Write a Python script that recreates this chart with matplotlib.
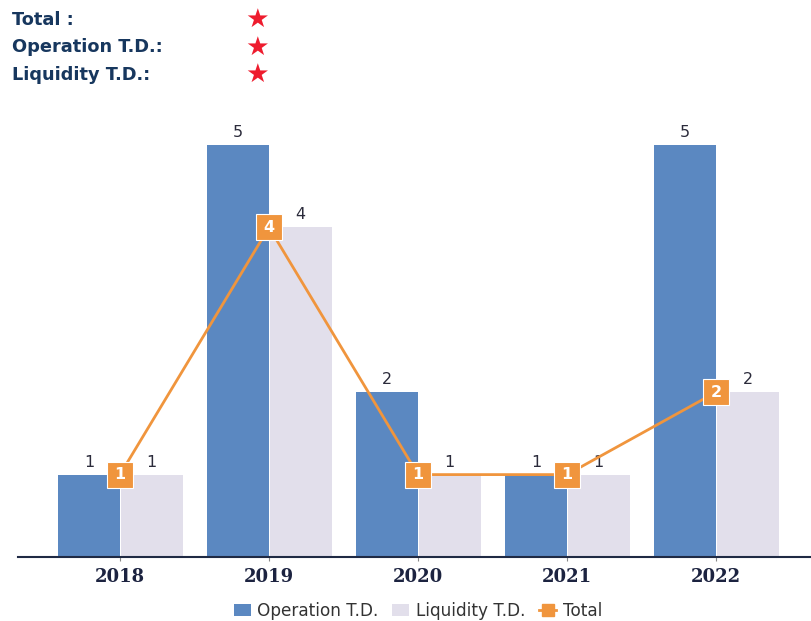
import matplotlib

matplotlib.use("Agg")
import matplotlib.pyplot as plt
import numpy as np
from matplotlib.lines import Line2D
from matplotlib.patches import Patch

years = ["2018", "2019", "2020", "2021", "2022"]
operation_td = [1, 5, 2, 1, 5]
liquidity_td = [1, 4, 1, 1, 2]
total = [1, 4, 1, 1, 2]
header_labels = ["Total :", "Operation T.D.:", "Liquidity T.D.:"]

BLUE = "#5b88c1"
LILAC = "#e2dfeb"
ORANGE = "#f0953d"
NAVY = "#17375e"

W, H = 811, 621
fig = plt.figure(figsize=(W / 100, H / 100), dpi=100)

# plot area: baseline at y=557px, x from 18 to 811
ax_left, ax_right = 18, 811
ax_bottom, ax_top = 557, 110
ax = fig.add_axes([ax_left / W, 1 - ax_bottom / H,
                   (ax_right - ax_left) / W, (ax_bottom - ax_top) / H])

x = np.arange(len(years))
bw = 0.415
ax.bar(x - bw / 2, operation_td, width=bw, color=BLUE, zorder=2)
ax.bar(x + bw / 2 + 0.005, liquidity_td, width=bw, color=LILAC, zorder=2)

for xi, v in zip(x, operation_td):
    ax.text(xi - bw / 2, v + 0.06, str(v), ha="center", va="bottom",
            fontsize=11.5, color="#2b2b3b")
for xi, v in zip(x, liquidity_td):
    ax.text(xi + bw / 2 + 0.005, v + 0.06, str(v), ha="center", va="bottom",
            fontsize=11.5, color="#2b2b3b")

ax.plot(x, total, color=ORANGE, linewidth=2, zorder=3)
ax.plot(x, total, linestyle="none", marker="s", markersize=19,
        color=ORANGE, markeredgecolor="white", markeredgewidth=0.8, zorder=4)
for xi, v in zip(x, total):
    ax.text(xi, v, str(v), ha="center", va="center", fontsize=11.5,
            fontweight="bold", color="white", zorder=5)

xmin = -102 / 149
xmax = (ax_right - 120) / 149
ax.set_xlim(xmin, xmax)
ax.set_ylim(0, (ax_bottom - ax_top) / 82.4)

for s in ["top", "right", "left"]:
    ax.spines[s].set_visible(False)
ax.spines["bottom"].set_color("#1f2a44")
ax.spines["bottom"].set_linewidth(1.5)
ax.set_yticks([])
ax.set_xticks(x)
ax.set_xticklabels(years, fontsize=13, fontweight="bold", color="#1c2340",
                   family="DejaVu Serif")
ax.tick_params(axis="x", length=3, color="#888888", pad=5)

# header block
for i, lab in enumerate(header_labels):
    y = 1 - (20 + i * 27.5) / H
    fig.text(12 / W, y, lab, ha="left", va="center", fontsize=12.8,
             fontweight="bold", color=NAVY)
    fig.text(257 / W, y, "\u2605", ha="center", va="center", fontsize=19,
             color="#ee1c2e")

handles = [
    Patch(facecolor=BLUE, edgecolor="none"),
    Patch(facecolor=LILAC, edgecolor="none"),
    Line2D([0], [0], color=ORANGE, linewidth=2, marker="s", markersize=8),
]
fig.legend(handles, ["Operation T.D.", "Liquidity T.D.", "Total"],
           loc="center", bbox_to_anchor=(418 / W, 1 - 611 / H), ncol=3,
           frameon=False, fontsize=12.2, handlelength=1.0, handletextpad=0.4,
           columnspacing=0.8, labelcolor="#333333")

fig.savefig("out.png", dpi=100)
